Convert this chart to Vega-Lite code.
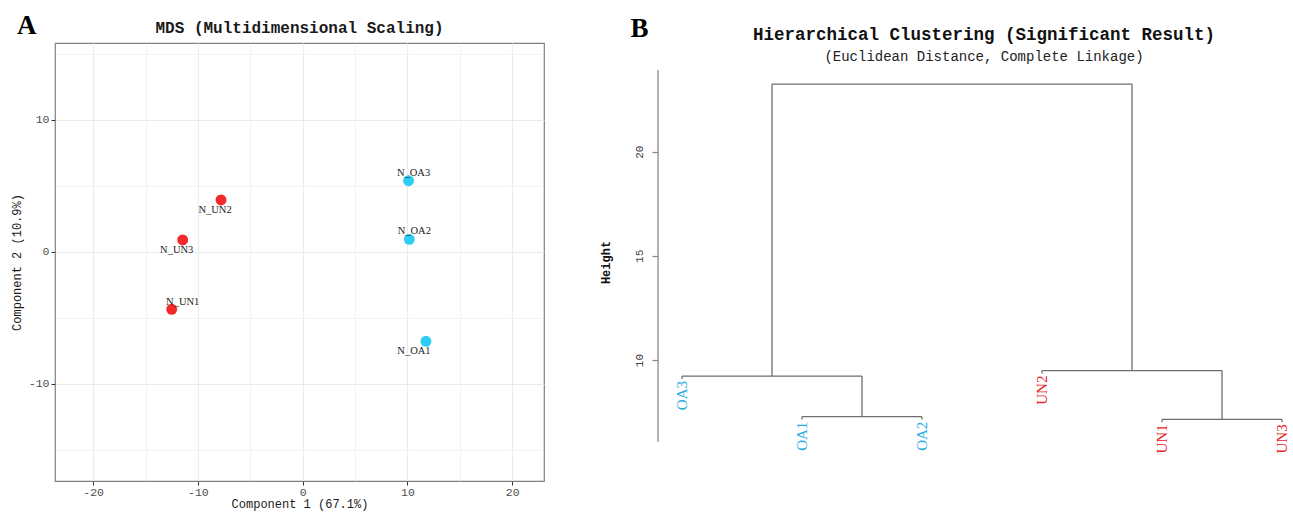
{
  "$schema": "https://vega.github.io/schema/vega-lite/v6.json",
  "background": "white",
  "padding": {"left": 9, "top": 10, "right": 0, "bottom": 0},
  "bounds": "flush",
  "center": true,
  "columns": 2,
  "spacing": 114,
  "resolve": {"scale": {"color": "independent"}},
  "config": {"font": "Liberation Mono"},
  "concat": [
    {
      "width": 489,
      "height": 438,
      "view": {"stroke": "#808080", "strokeWidth": 1.2},
      "title": {"text": "MDS (Multidimensional Scaling)", "font": "Liberation Mono", "fontSize": 16, "fontWeight": "bold", "color": "#1a1a1a", "anchor": "middle", "frame": "group", "offset": 0, "dy": 24},
      "data": {"values": [
        {"name": "N_UN1", "group": "UN", "c1": -12.5, "c2": -4.36},
        {"name": "N_UN2", "group": "UN", "c1": -7.79, "c2": 3.92},
        {"name": "N_UN3", "group": "UN", "c1": -11.45, "c2": 0.89},
        {"name": "N_OA1", "group": "OA", "c1": 11.77, "c2": -6.79},
        {"name": "N_OA2", "group": "OA", "c1": 10.18, "c2": 0.94},
        {"name": "N_OA3", "group": "OA", "c1": 10.11, "c2": 5.38}
      ]},
      "encoding": {
        "x": {"field": "c1", "type": "quantitative", "scale": {"domain": [-23.64, 23.04], "nice": false, "zero": false}, "axis": null},
        "y": {"field": "c2", "type": "quantitative", "scale": {"domain": [-17.37, 15.81], "nice": false, "zero": false},
          "axis": {"title": "Component 2 (10.9%)", "values": [-15, -10, -5, 0, 5, 10, 15],
            "labelExpr": "datum.value % 10 === 0 ? '' + datum.value : ''",
            "tickOpacity": {"condition": {"test": "datum.value % 10 !== 0", "value": 0}, "value": 1},
            "gridWidth": {"condition": {"test": "datum.value % 10 !== 0", "value": 0.6}, "value": 1.1},
            "gridColor": "#ebebeb", "grid": true, "domain": false, "tickSize": 4, "tickColor": "#333333",
            "labelColor": "#4d4d4d", "labelFont": "Liberation Mono", "labelFontSize": 11.5, "labelPadding": 2, "labelOverlap": false,
            "titleFont": "Liberation Mono", "titleFontSize": 12, "titleFontWeight": "normal", "titleColor": "#1a1a1a", "titlePadding": 5}}
      },
      "layer": [
        {
          "mark": {"type": "circle", "size": 120, "opacity": 1},
          "encoding": {
            "x": {"field": "c1", "type": "quantitative", "scale": {"domain": [-23.64, 23.04], "nice": false, "zero": false},
              "axis": {"orient": "bottom", "title": "Component 1 (67.1%)", "values": [-20, -15, -10, -5, 0, 5, 10, 15, 20],
                "labelExpr": "datum.value % 10 === 0 ? '' + datum.value : ''",
                "tickOpacity": {"condition": {"test": "datum.value % 10 !== 0", "value": 0}, "value": 1},
                "gridWidth": {"condition": {"test": "datum.value % 10 !== 0", "value": 0.6}, "value": 1.1},
                "gridColor": "#ebebeb", "grid": true, "domain": false, "tickSize": 4, "tickColor": "#333333",
                "labelColor": "#4d4d4d", "labelFont": "Liberation Mono", "labelFontSize": 11.5, "labelPadding": 1, "labelOverlap": false, "labelFlush": false,
                "titleFont": "Liberation Mono", "titleFontSize": 12, "titleFontWeight": "normal", "titleColor": "#1a1a1a", "titlePadding": 1}},
            "color": {"field": "group", "type": "nominal", "scale": {"domain": ["OA", "UN"], "range": ["#2ecdf4", "#f42a2a"]}, "legend": null}
          }
        },
        {
          "transform": [{"filter": {"field": "name", "oneOf": ["N_OA3", "N_OA2"]}}],
          "mark": {"type": "text", "dx": 5, "dy": -8, "font": "Liberation Serif", "fontSize": 10.5, "color": "#222222"},
          "encoding": {
            "text": {"field": "name"},
            "x": {"field": "c1", "type": "quantitative", "scale": {"domain": [-23.64, 23.04], "nice": false, "zero": false},
              "axis": {"orient": "top", "labels": false, "ticks": false, "domain": false, "grid": false,
                "title": "A", "titleX": -38.5, "titleY": -9.5, "titleAlign": "left", "titleBaseline": "alphabetic", "titleAngle": 0,
                "titleFont": "Liberation Serif", "titleFontSize": 27, "titleFontWeight": "bold", "titleColor": "#000000"}}
          }
        },
        {
          "transform": [{"filter": {"field": "name", "oneOf": ["N_UN1"]}}],
          "mark": {"type": "text", "dx": 11, "dy": -7, "font": "Liberation Serif", "fontSize": 10.5, "color": "#222222"},
          "encoding": {"text": {"field": "name"}}
        },
        {
          "transform": [{"filter": {"field": "name", "oneOf": ["N_UN2", "N_UN3"]}}],
          "mark": {"type": "text", "dx": -6, "dy": 10.5, "font": "Liberation Serif", "fontSize": 10.5, "color": "#222222"},
          "encoding": {"text": {"field": "name"}}
        },
        {
          "transform": [{"filter": {"field": "name", "oneOf": ["N_OA1"]}}],
          "mark": {"type": "text", "dx": -12, "dy": 9.5, "font": "Liberation Serif", "fontSize": 10.5, "color": "#222222"},
          "encoding": {"text": {"field": "name"}}
        }
      ],
      "resolve": {"axis": {"x": "independent"}}
    },
    {
      "width": 634,
      "height": 384,
      "view": {"stroke": null},
      "title": {"text": "Hierarchical Clustering (Significant Result)", "subtitle": "(Euclidean Distance, Complete Linkage)",
        "font": "Liberation Mono", "fontSize": 17.5, "fontWeight": "bold", "color": "#111111",
        "subtitleFont": "Liberation Mono", "subtitleFontSize": 14, "subtitleColor": "#222222", "subtitlePadding": 7,
        "anchor": "middle", "frame": "group", "dx": 9, "offset": 0, "dy": 50},
      "layer": [
        {
          "data": {"values": [
            {"x": 1, "x2": 2.5, "y": 9.23, "y2": 9.23},
            {"x": 2, "x2": 3, "y": 7.28, "y2": 7.28},
            {"x": 4, "x2": 5.5, "y": 9.49, "y2": 9.49},
            {"x": 5, "x2": 6, "y": 7.15, "y2": 7.15},
            {"x": 1.75, "x2": 4.75, "y": 23.24, "y2": 23.24},
            {"x": 1.75, "x2": 1.75, "y": 9.23, "y2": 23.24},
            {"x": 4.75, "x2": 4.75, "y": 9.49, "y2": 23.24},
            {"x": 2.5, "x2": 2.5, "y": 7.28, "y2": 9.23},
            {"x": 5.5, "x2": 5.5, "y": 7.15, "y2": 9.49},
            {"x": 1, "x2": 1, "y": 9.09, "y2": 9.23},
            {"x": 2, "x2": 2, "y": 7.14, "y2": 7.28},
            {"x": 3, "x2": 3, "y": 7.14, "y2": 7.28},
            {"x": 4, "x2": 4, "y": 9.35, "y2": 9.49},
            {"x": 5, "x2": 5, "y": 7.01, "y2": 7.15},
            {"x": 6, "x2": 6, "y": 7.01, "y2": 7.15}
          ]},
          "mark": {"type": "rule", "color": "#6e6e6e", "strokeWidth": 1.3},
          "encoding": {
            "x": {"field": "x", "type": "quantitative", "scale": {"domain": [0.8, 6.083], "nice": false, "zero": false}, "axis": null},
            "x2": {"field": "x2"},
            "y": {"field": "y", "type": "quantitative", "scale": {"domain": [5.49, 23.92], "nice": false, "zero": false},
              "axis": {"title": "Height", "values": [10, 15, 20], "domain": false, "grid": false, "tickSize": 6, "tickColor": "#888888", "tickWidth": 1.2,
                "labelAngle": 270, "labelAlign": "center", "labelBaseline": "bottom", "labelPadding": 8,
                "labelFont": "Liberation Mono", "labelFontSize": 11, "labelColor": "#444444",
                "titleFont": "Liberation Mono", "titleFontSize": 12, "titleFontWeight": "bold", "titleColor": "#111111", "titlePadding": 21}},
            "y2": {"field": "y2"}
          }
        },
        {
          "data": {"values": [{}]},
          "mark": {"type": "rule", "color": "#8a8a8a", "strokeWidth": 1.3},
          "encoding": {
            "x": {"datum": 0.8, "type": "quantitative", "scale": {"domain": [0.8, 6.083], "nice": false, "zero": false}, "axis": null},
            "y": {"datum": 6.08, "type": "quantitative", "scale": {"domain": [5.49, 23.92], "nice": false, "zero": false},
              "axis": {"title": "Height", "values": [10, 15, 20], "domain": false, "grid": false, "tickSize": 6, "tickColor": "#888888", "tickWidth": 1.2,
                "labelAngle": 270, "labelAlign": "center", "labelBaseline": "bottom", "labelPadding": 8,
                "labelFont": "Liberation Mono", "labelFontSize": 11, "labelColor": "#444444",
                "titleFont": "Liberation Mono", "titleFontSize": 12, "titleFontWeight": "bold", "titleColor": "#111111", "titlePadding": 21}},
            "y2": {"datum": 23.92}
          }
        },
        {
          "data": {"values": [
            {"leaf": "OA3", "group": "OA", "x": 1, "y": 9.09},
            {"leaf": "OA1", "group": "OA", "x": 2, "y": 7.14},
            {"leaf": "OA2", "group": "OA", "x": 3, "y": 7.14},
            {"leaf": "UN2", "group": "UN", "x": 4, "y": 9.35},
            {"leaf": "UN1", "group": "UN", "x": 5, "y": 7.01},
            {"leaf": "UN3", "group": "UN", "x": 6, "y": 7.01}
          ]},
          "mark": {"type": "text", "angle": 270, "align": "right", "baseline": "middle", "font": "Liberation Serif", "fontSize": 15, "dx": -2},
          "encoding": {
            "x": {"field": "x", "type": "quantitative", "scale": {"domain": [0.8, 6.083], "nice": false, "zero": false},
              "axis": {"orient": "top", "labels": false, "ticks": false, "domain": false, "grid": false,
                "title": "B", "titleX": -28, "titleY": -34, "titleAlign": "left", "titleBaseline": "alphabetic", "titleAngle": 0,
                "titleFont": "Liberation Serif", "titleFontSize": 27, "titleFontWeight": "bold", "titleColor": "#000000"}},
            "y": {"field": "y", "type": "quantitative", "scale": {"domain": [5.49, 23.92], "nice": false, "zero": false},
              "axis": {"title": "Height", "values": [10, 15, 20], "domain": false, "grid": false, "tickSize": 6, "tickColor": "#888888", "tickWidth": 1.2,
                "labelAngle": 270, "labelAlign": "center", "labelBaseline": "bottom", "labelPadding": 8,
                "labelFont": "Liberation Mono", "labelFontSize": 11, "labelColor": "#444444",
                "titleFont": "Liberation Mono", "titleFontSize": 12, "titleFontWeight": "bold", "titleColor": "#111111", "titlePadding": 21}},
            "text": {"field": "leaf"},
            "color": {"field": "group", "type": "nominal", "scale": {"domain": ["OA", "UN"], "range": ["#29abe2", "#e8262b"]}, "legend": null}
          }
        }
      ],
      "resolve": {"axis": {"x": "independent"}}
    }
  ]
}
